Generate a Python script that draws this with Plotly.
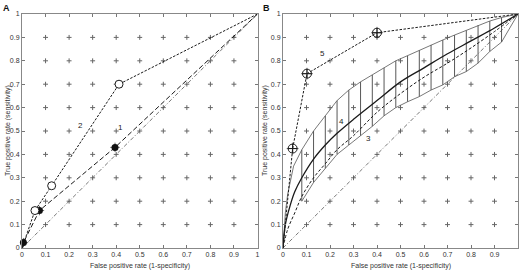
import plotly.graph_objects as go

# ---------------- data ----------------
ticks = [0, 0.1, 0.2, 0.3, 0.4, 0.5, 0.6, 0.7, 0.8, 0.9, 1]
tick_text = ["0", "0.1", "0.2", "0.3", "0.4", "0.5", "0.6", "0.7", "0.8", "0.9", "1"]
grid_pts = [0.1, 0.2, 0.3, 0.4, 0.5, 0.6, 0.7, 0.8, 0.9]

# Panel A
a1_fpr = [0, 0.006, 0.074, 0.395, 1]
a1_tpr = [0, 0.023, 0.16, 0.43, 1]
a1_pts_fpr = [0.006, 0.074, 0.395]
a1_pts_tpr = [0.023, 0.16, 0.43]
a1_err = [0.02, 0.02, 0.02]

a2_fpr = [0, 0.055, 0.126, 0.412, 1]
a2_tpr = [0, 0.16, 0.266, 0.70, 1]
a2_pts_fpr = [0.055, 0.126, 0.412]
a2_pts_tpr = [0.16, 0.266, 0.70]

# Panel B
b5_fpr = [0, 0.041, 0.102, 0.40, 1]
b5_tpr = [0, 0.425, 0.745, 0.92, 1]
b5_pts_fpr = [0.041, 0.102, 0.40]
b5_pts_tpr = [0.425, 0.745, 0.92]
b5_err = [0.025, 0.025, 0.025]

b4_fpr = [0, 0.01, 0.03, 0.05, 0.08, 0.13, 0.18, 0.23, 0.3, 0.4, 0.5, 0.6, 0.7, 0.8, 0.9, 1]
b4_tpr = [0, 0.10, 0.18, 0.24, 0.30, 0.38, 0.44, 0.49, 0.55, 0.63, 0.71, 0.77, 0.83, 0.885, 0.94, 1]

b3_fpr = [0, 0.02, 0.05, 0.08, 0.13, 0.18, 0.23, 0.3, 0.4, 0.5, 0.6, 0.7, 0.8, 0.9, 1]
b3_tpr = [0, 0.08, 0.15, 0.22, 0.30, 0.36, 0.42, 0.48, 0.58, 0.66, 0.73, 0.79, 0.855, 0.925, 1]

band_fpr = [0.08, 0.13, 0.18, 0.23, 0.28, 0.33, 0.38, 0.43, 0.48, 0.53, 0.58, 0.63,
            0.68, 0.73, 0.78, 0.83, 0.88, 0.93]
band_hi = [0.42, 0.50, 0.565, 0.63, 0.675, 0.71, 0.74, 0.77, 0.80, 0.822, 0.845, 0.868,
           0.889, 0.91, 0.93, 0.952, 0.97, 0.985]
band_lo = [0.20, 0.28, 0.34, 0.40, 0.44, 0.48, 0.52, 0.565, 0.60, 0.625, 0.647, 0.675,
           0.697, 0.732, 0.754, 0.79, 0.84, 0.88]
hi_start_fpr = [0, 0.01, 0.02, 0.045]
hi_start_tpr = [0, 0.15, 0.23, 0.35]

FONT = "Liberation Sans, Arial, sans-serif"
INK = "#1a1a1a"

fig = go.Figure()


def add_grid(xa, ya):
    gx, gy = [], []
    for x in grid_pts:
        for y in grid_pts:
            gx.append(x)
            gy.append(y)
    fig.add_trace(go.Scatter(x=gx, y=gy, mode="markers", xaxis=xa, yaxis=ya,
                             marker=dict(symbol="cross-thin", size=3.5, color="#666",
                                         line=dict(width=1, color="#666")),
                             hoverinfo="skip", showlegend=False))


def add_diag(xa, ya):
    fig.add_trace(go.Scatter(x=[0, 1], y=[0, 1], mode="lines", xaxis=xa, yaxis=ya,
                             line=dict(color="#555", width=0.8, dash="4px,2px,1px,2px"),
                             showlegend=False))


# ---- Panel A ----
add_grid("x", "y")
add_diag("x", "y")
fig.add_trace(go.Scatter(x=a1_fpr, y=a1_tpr, mode="lines", xaxis="x", yaxis="y",
                         line=dict(color=INK, width=1, dash="5px,2.5px"), showlegend=False))
fig.add_trace(go.Scatter(x=a2_fpr, y=a2_tpr, mode="lines", xaxis="x", yaxis="y",
                         line=dict(color=INK, width=1, dash="2.5px,1.5px"), showlegend=False))
fig.add_trace(go.Scatter(x=a1_pts_fpr, y=a1_pts_tpr, mode="markers", xaxis="x", yaxis="y",
                         marker=dict(symbol="circle", size=7, color="#111"),
                         error_x=dict(type="data", array=a1_err, width=0, thickness=0.8, color="#444"),
                         error_y=dict(type="data", array=a1_err, width=0, thickness=0.8, color="#444"),
                         cliponaxis=False, showlegend=False))
fig.add_trace(go.Scatter(x=a2_pts_fpr, y=a2_pts_tpr, mode="markers", xaxis="x", yaxis="y",
                         marker=dict(symbol="circle", size=8, color="white",
                                     line=dict(color=INK, width=1)),
                         cliponaxis=False, showlegend=False))

# ---- Panel B ----
add_grid("x2", "y2")
add_diag("x2", "y2")
bx, by = [], []
for x, lo, hi in zip(band_fpr, band_lo, band_hi):
    bx += [x, x, None]
    by += [lo, hi, None]
fig.add_trace(go.Scatter(x=bx, y=by, mode="lines", xaxis="x2", yaxis="y2",
                         line=dict(color="#444", width=0.9), showlegend=False))
fig.add_trace(go.Scatter(x=hi_start_fpr + band_fpr + [1], y=hi_start_tpr + band_hi + [1],
                         mode="lines", xaxis="x2", yaxis="y2",
                         line=dict(color="#555", width=0.8), showlegend=False))
fig.add_trace(go.Scatter(x=band_fpr + [1], y=band_lo + [1],
                         mode="lines", xaxis="x2", yaxis="y2",
                         line=dict(color="#555", width=0.8), showlegend=False))
fig.add_trace(go.Scatter(x=b3_fpr, y=b3_tpr, mode="lines", xaxis="x2", yaxis="y2", line_shape="spline",
                         line=dict(color=INK, width=1, dash="3px,2px"), showlegend=False))
fig.add_trace(go.Scatter(x=b4_fpr, y=b4_tpr, mode="lines", xaxis="x2", yaxis="y2", line_shape="spline",
                         line=dict(color=INK, width=1.3), showlegend=False))
fig.add_trace(go.Scatter(x=b5_fpr, y=b5_tpr, mode="lines", xaxis="x2", yaxis="y2",
                         line=dict(color=INK, width=1, dash="2.5px,1.5px"), showlegend=False))
fig.add_trace(go.Scatter(x=b5_pts_fpr, y=b5_pts_tpr, mode="markers", xaxis="x2", yaxis="y2",
                         marker=dict(symbol="circle-cross-open", size=9, color=INK,
                                     line=dict(color=INK, width=1)),
                         error_x=dict(type="data", array=b5_err, width=0, thickness=0.8, color="#444"),
                         error_y=dict(type="data", array=b5_err, width=0, thickness=0.8, color="#444"),
                         cliponaxis=False, showlegend=False))

# ---- axes ----
yd = [1 - 248 / 276, 1 - 14 / 276]
axis_common = dict(range=[0, 1], tickvals=ticks, ticktext=tick_text, ticks="inside", ticklen=3,
                   tickcolor="#777", mirror="allticks", showline=True, linecolor="#888",
                   linewidth=1, showgrid=False, zeroline=False,
                   tickfont=dict(family=FONT, size=7, color="#333"))
fig.update_layout(
    width=520, height=276, margin=dict(l=0, r=0, t=0, b=0, autoexpand=False),
    paper_bgcolor="white", plot_bgcolor="white",
    xaxis=dict(domain=[22 / 520, 257.5 / 520], anchor="y", **axis_common),
    yaxis=dict(domain=yd, anchor="x", **axis_common),
    xaxis2=dict(domain=[283 / 520, 518 / 520], anchor="y2", **axis_common),
    yaxis2=dict(domain=yd, anchor="x2", **axis_common),
)

ann = []
tf = dict(family=FONT, size=7, color="#333")
xt = "False positive rate (1-specificity)"
yt = "True positive rate (sensitivity)"
ann.append(dict(text=xt, x=0.5, y=-0.078, xref="x domain", yref="y domain", showarrow=False,
                xanchor="center", yanchor="middle", font=tf))
ann.append(dict(text=xt, x=0.5, y=-0.078, xref="x2 domain", yref="y2 domain", showarrow=False,
                xanchor="center", yanchor="middle", font=tf))
ann.append(dict(text=yt, x=8 / 520, y=(yd[0] + yd[1]) / 2, xref="paper", yref="paper",
                xanchor="center", yanchor="middle", textangle=-90, showarrow=False, font=tf))
ann.append(dict(text=yt, x=265 / 520, y=(yd[0] + yd[1]) / 2, xref="paper", yref="paper",
                xanchor="center", yanchor="middle", textangle=-90, showarrow=False, font=tf))
ann.append(dict(text="<b>A</b>", x=6 / 520, y=1 - 8 / 276, xref="paper", yref="paper",
                xanchor="center", yanchor="middle", showarrow=False,
                font=dict(family=FONT, size=9, color="#111")))
ann.append(dict(text="<b>B</b>", x=266 / 520, y=1 - 8 / 276, xref="paper", yref="paper",
                xanchor="center", yanchor="middle", showarrow=False,
                font=dict(family=FONT, size=9, color="#111")))
lf = dict(family=FONT, size=8, color="#222")
ann.append(dict(text="2", x=0.25, y=0.525, xref="x", yref="y", showarrow=False, font=lf))
ann.append(dict(text="1", x=0.42, y=0.515, xref="x", yref="y", showarrow=False, font=lf))
ann.append(dict(text="5", x=0.166, y=0.832, xref="x2", yref="y2", showarrow=False, font=lf))
ann.append(dict(text="4", x=0.25, y=0.54, xref="x2", yref="y2", showarrow=False, font=lf))
ann.append(dict(text="3", x=0.364, y=0.469, xref="x2", yref="y2", showarrow=False, font=lf))
fig.update_layout(annotations=ann)

fig.write_html("out.html", config={"displayModeBar": False},
               post_script="document.body.style.margin='0';document.body.style.padding='0';"
                           "document.body.style.overflow='hidden';")
